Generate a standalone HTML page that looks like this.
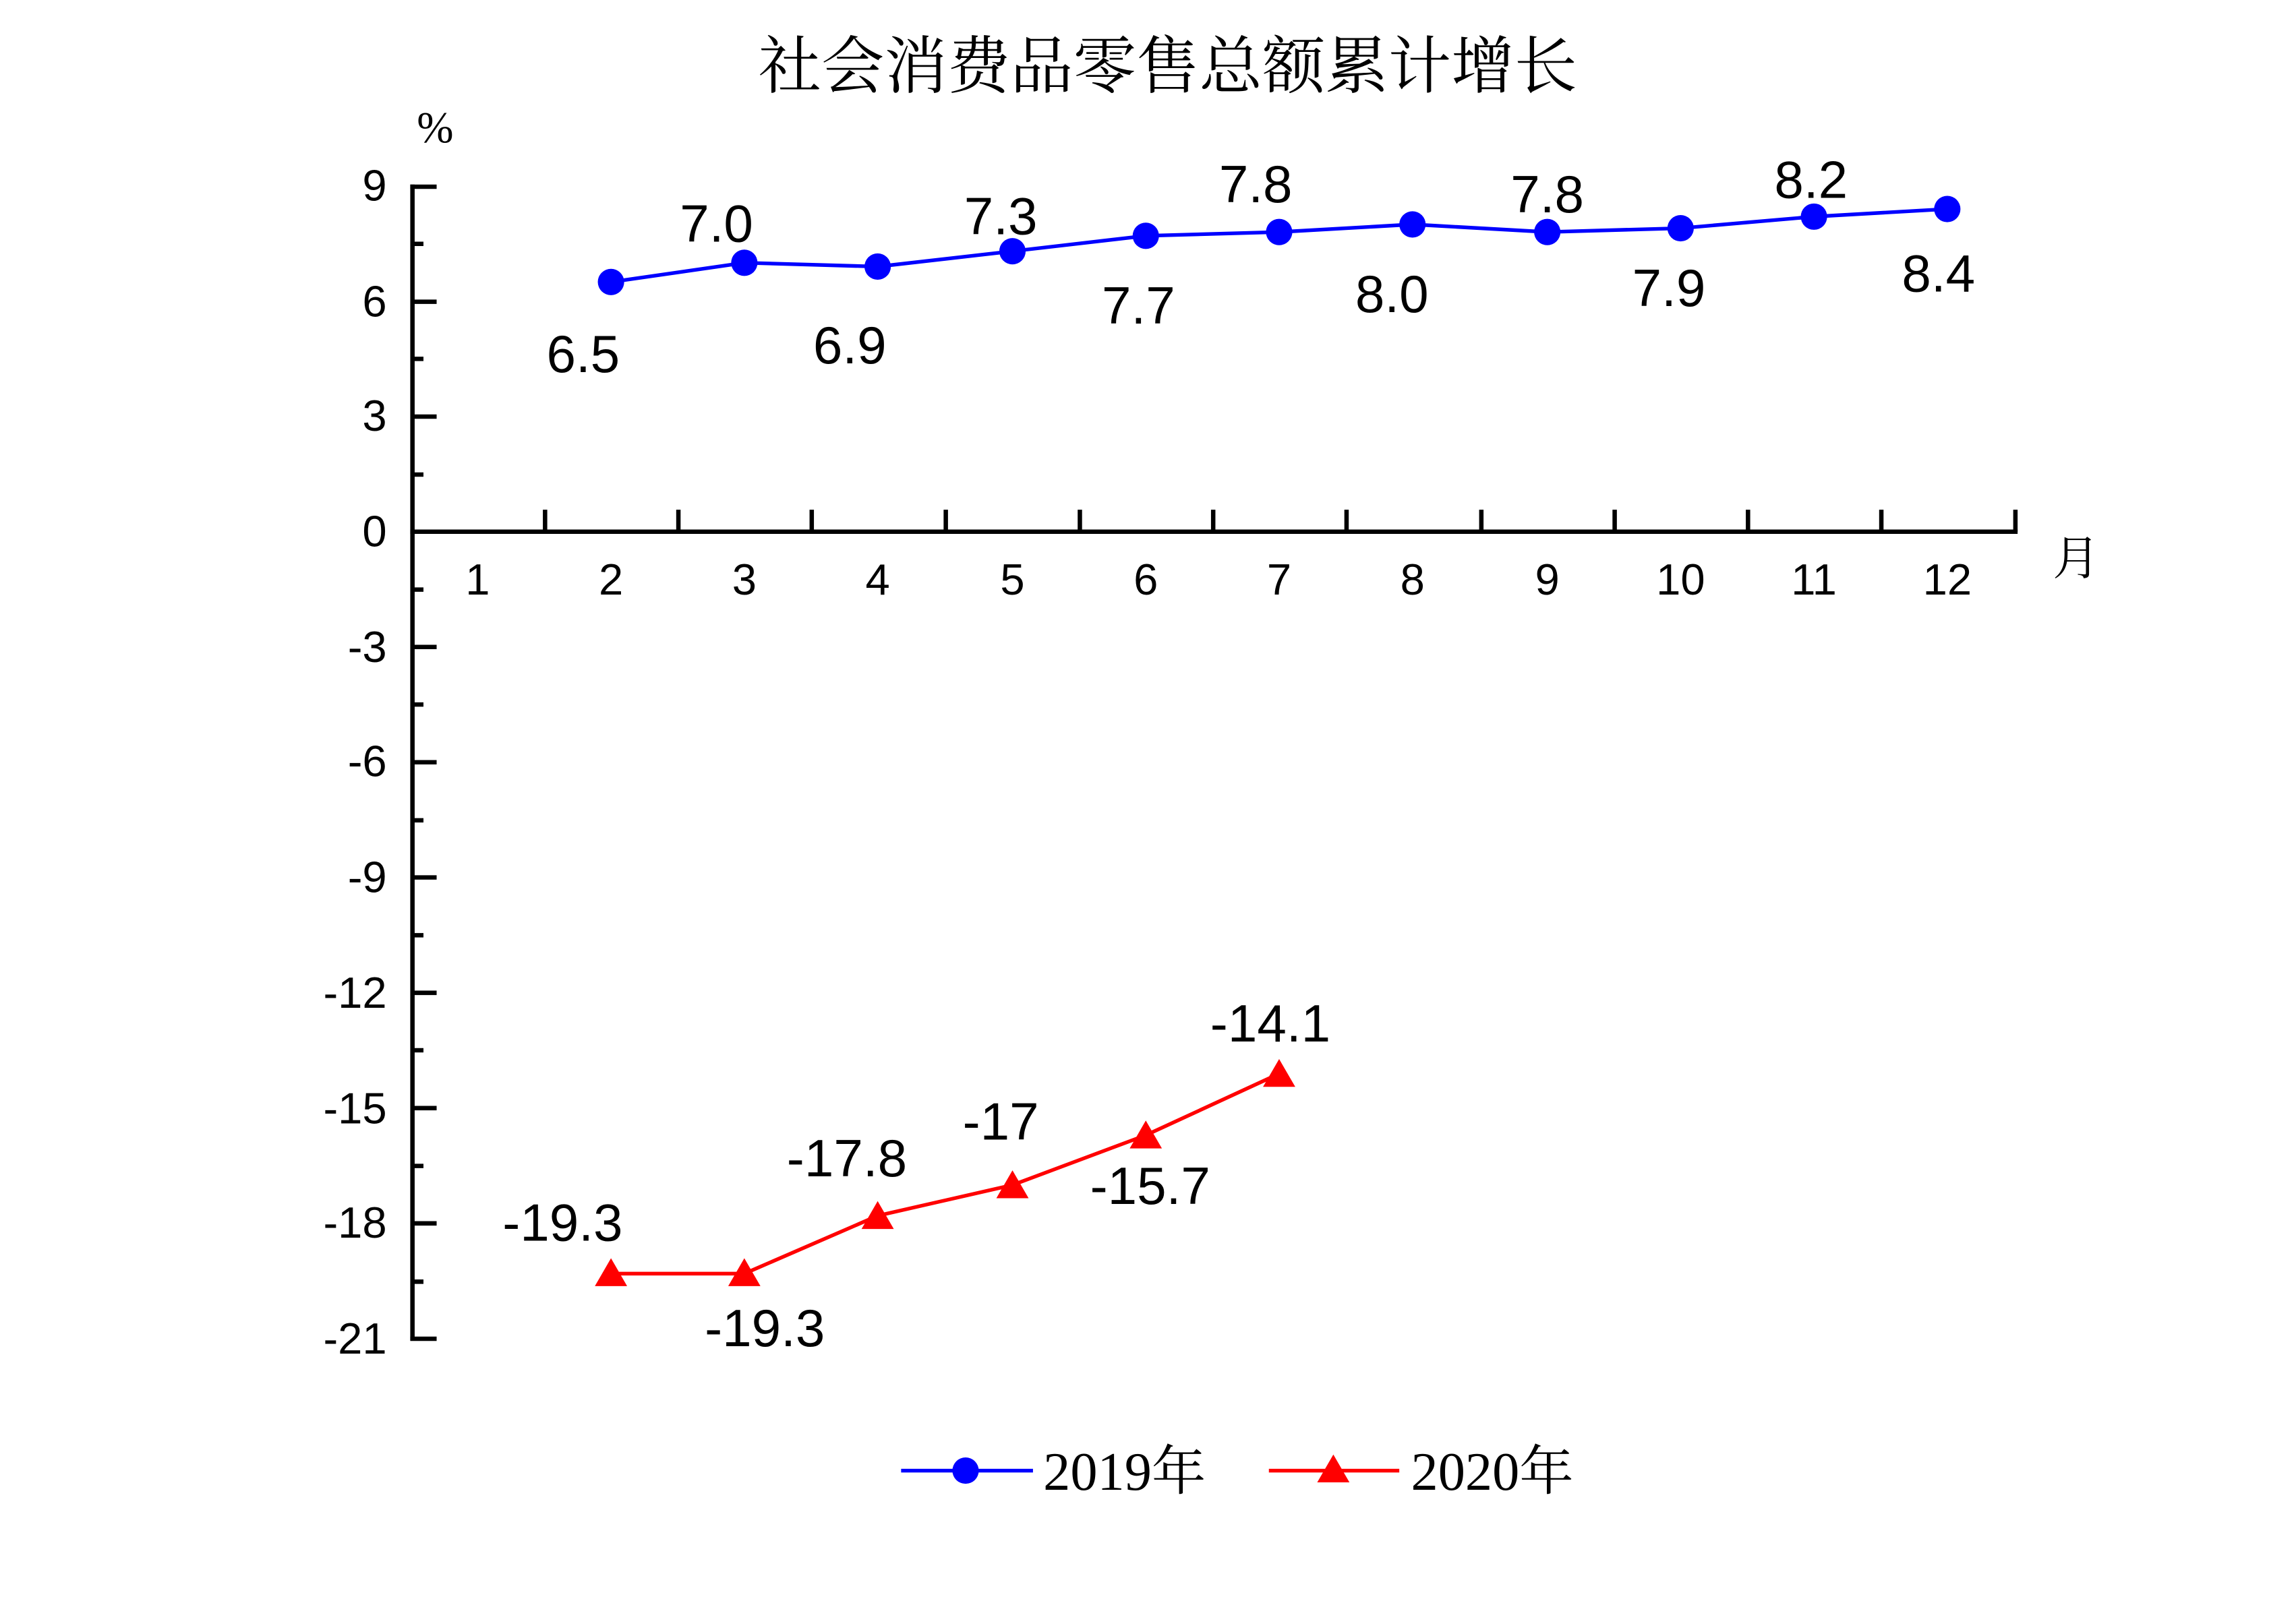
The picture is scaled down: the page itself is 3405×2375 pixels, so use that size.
<!DOCTYPE html>
<html><head><meta charset="utf-8"><style>html,body{margin:0;padding:0;background:#fff}svg{display:block}</style></head>
<body>
<svg width="3405" height="2375" viewBox="0 0 1567 1093" preserveAspectRatio="none" xmlns="http://www.w3.org/2000/svg">
<rect width="1567" height="1093" fill="#fff"/>
<text x="797" y="60" font-family="'Liberation Serif','Noto Serif CJK SC',serif" font-size="43" text-anchor="middle">社会消费品零售总额累计增长</text>
<text x="297" y="97" font-family="'Liberation Serif',serif" font-size="30" text-anchor="middle">%</text>
<g stroke="#000" stroke-width="3" fill="none">
<line x1="281.5" y1="126" x2="281.5" y2="915"/>
<line x1="280" y1="363" x2="1377" y2="363"/>
<line x1="280" y1="914" x2="298" y2="914"/>
<line x1="280" y1="127.5" x2="298" y2="127.5"/>
</g>
<g stroke="#000" stroke-width="3">
<line x1="281" y1="206" x2="298" y2="206"/><line x1="281" y1="284.4" x2="298" y2="284.4"/>
<line x1="281" y1="441.7" x2="298" y2="441.7"/><line x1="281" y1="520.4" x2="298" y2="520.4"/>
<line x1="281" y1="599" x2="298" y2="599"/><line x1="281" y1="677.8" x2="298" y2="677.8"/>
<line x1="281" y1="756.5" x2="298" y2="756.5"/><line x1="281" y1="835.2" x2="298" y2="835.2"/>
<line x1="281" y1="166.5" x2="289" y2="166.5"/><line x1="281" y1="245" x2="289" y2="245"/>
<line x1="281" y1="324" x2="289" y2="324"/><line x1="281" y1="402.5" x2="289" y2="402.5"/>
<line x1="281" y1="481" x2="289" y2="481"/><line x1="281" y1="560" x2="289" y2="560"/>
<line x1="281" y1="638.5" x2="289" y2="638.5"/><line x1="281" y1="717" x2="289" y2="717"/>
<line x1="281" y1="796" x2="289" y2="796"/><line x1="281" y1="875" x2="289" y2="875"/>
<line x1="372" y1="363" x2="372" y2="348"/><line x1="463" y1="363" x2="463" y2="348"/>
<line x1="554" y1="363" x2="554" y2="348"/><line x1="645.5" y1="363" x2="645.5" y2="348"/>
<line x1="737" y1="363" x2="737" y2="348"/><line x1="828" y1="363" x2="828" y2="348"/>
<line x1="919" y1="363" x2="919" y2="348"/><line x1="1011" y1="363" x2="1011" y2="348"/>
<line x1="1102" y1="363" x2="1102" y2="348"/><line x1="1193" y1="363" x2="1193" y2="348"/>
<line x1="1284" y1="363" x2="1284" y2="348"/><line x1="1375.5" y1="363" x2="1375.5" y2="348"/>
</g>
<g font-family="'Liberation Sans',sans-serif" font-size="30" text-anchor="end">
<text x="264" y="137">9</text><text x="264" y="216">6</text><text x="264" y="294">3</text><text x="264" y="373">0</text>
<text x="264" y="452">-3</text><text x="264" y="530">-6</text><text x="264" y="609">-9</text><text x="264" y="688">-12</text>
<text x="264" y="767">-15</text><text x="264" y="845">-18</text><text x="264" y="924">-21</text>
</g>
<g font-family="'Liberation Sans',sans-serif" font-size="30" text-anchor="middle">
<text x="326" y="406">1</text><text x="417" y="406">2</text><text x="508" y="406">3</text><text x="599" y="406">4</text>
<text x="691" y="406">5</text><text x="782" y="406">6</text><text x="873" y="406">7</text><text x="964" y="406">8</text>
<text x="1056" y="406">9</text><text x="1147" y="406">10</text><text x="1238" y="406">11</text><text x="1329" y="406">12</text>
</g>
<text x="1417" y="392" font-family="'Liberation Serif','Noto Serif CJK SC',serif" font-size="32" text-anchor="middle">月</text>
<polyline fill="none" stroke="#0000ff" stroke-width="2.5" points="417,192.5 508,179.4 599,182 691,171.5 782,161 873,158.4 964,153.2 1056,158.4 1147,155.8 1238,147.9 1329,142.7"/>
<g fill="#0000ff">
<circle cx="417" cy="192.5" r="9"/><circle cx="508" cy="179.4" r="9"/><circle cx="599" cy="182" r="9"/><circle cx="691" cy="171.5" r="9"/>
<circle cx="782" cy="161" r="9"/><circle cx="873" cy="158.4" r="9"/><circle cx="964" cy="153.2" r="9"/><circle cx="1056" cy="158.4" r="9"/>
<circle cx="1147" cy="155.8" r="9"/><circle cx="1238" cy="147.9" r="9"/><circle cx="1329" cy="142.7" r="9"/>
</g>
<polyline fill="none" stroke="#ff0000" stroke-width="2.5" points="417,869.5 508,869.5 599,830 691,809 782,775 873,733"/>
<g fill="#ff0000">
<polygon points="417,859 406,878 428,878"/><polygon points="508,859 497,878 519,878"/><polygon points="599,820 588,839 610,839"/>
<polygon points="691,799 680,818 702,818"/><polygon points="782,765 771,784 793,784"/><polygon points="873,723 862,742 884,742"/>
</g>
<g font-family="'Liberation Sans',sans-serif" font-size="36" text-anchor="middle">
<text x="398" y="254">6.5</text><text x="489" y="165">7.0</text><text x="580" y="248">6.9</text><text x="683" y="160">7.3</text>
<text x="777" y="221">7.7</text><text x="857" y="138">7.8</text><text x="950" y="213">8.0</text><text x="1056" y="145">7.8</text>
<text x="1139" y="209">7.9</text><text x="1236" y="135">8.2</text><text x="1323" y="199">8.4</text>
<text x="384" y="847">-19.3</text><text x="522" y="919">-19.3</text><text x="578" y="803">-17.8</text><text x="683" y="778">-17</text>
<text x="785" y="822">-15.7</text><text x="867" y="711">-14.1</text>
</g>
<line x1="615" y1="1004" x2="705" y2="1004" stroke="#0000ff" stroke-width="2.5"/>
<circle cx="659" cy="1004" r="9" fill="#0000ff"/>
<text x="712" y="1017" font-family="'Liberation Serif','Noto Serif CJK SC',serif" font-size="37">2019年</text>
<line x1="866" y1="1004" x2="955" y2="1004" stroke="#ff0000" stroke-width="2.5"/>
<polygon points="910,993 899,1012 921,1012" fill="#ff0000"/>
<text x="963" y="1017" font-family="'Liberation Serif','Noto Serif CJK SC',serif" font-size="37">2020年</text>
</svg>
</body></html>
